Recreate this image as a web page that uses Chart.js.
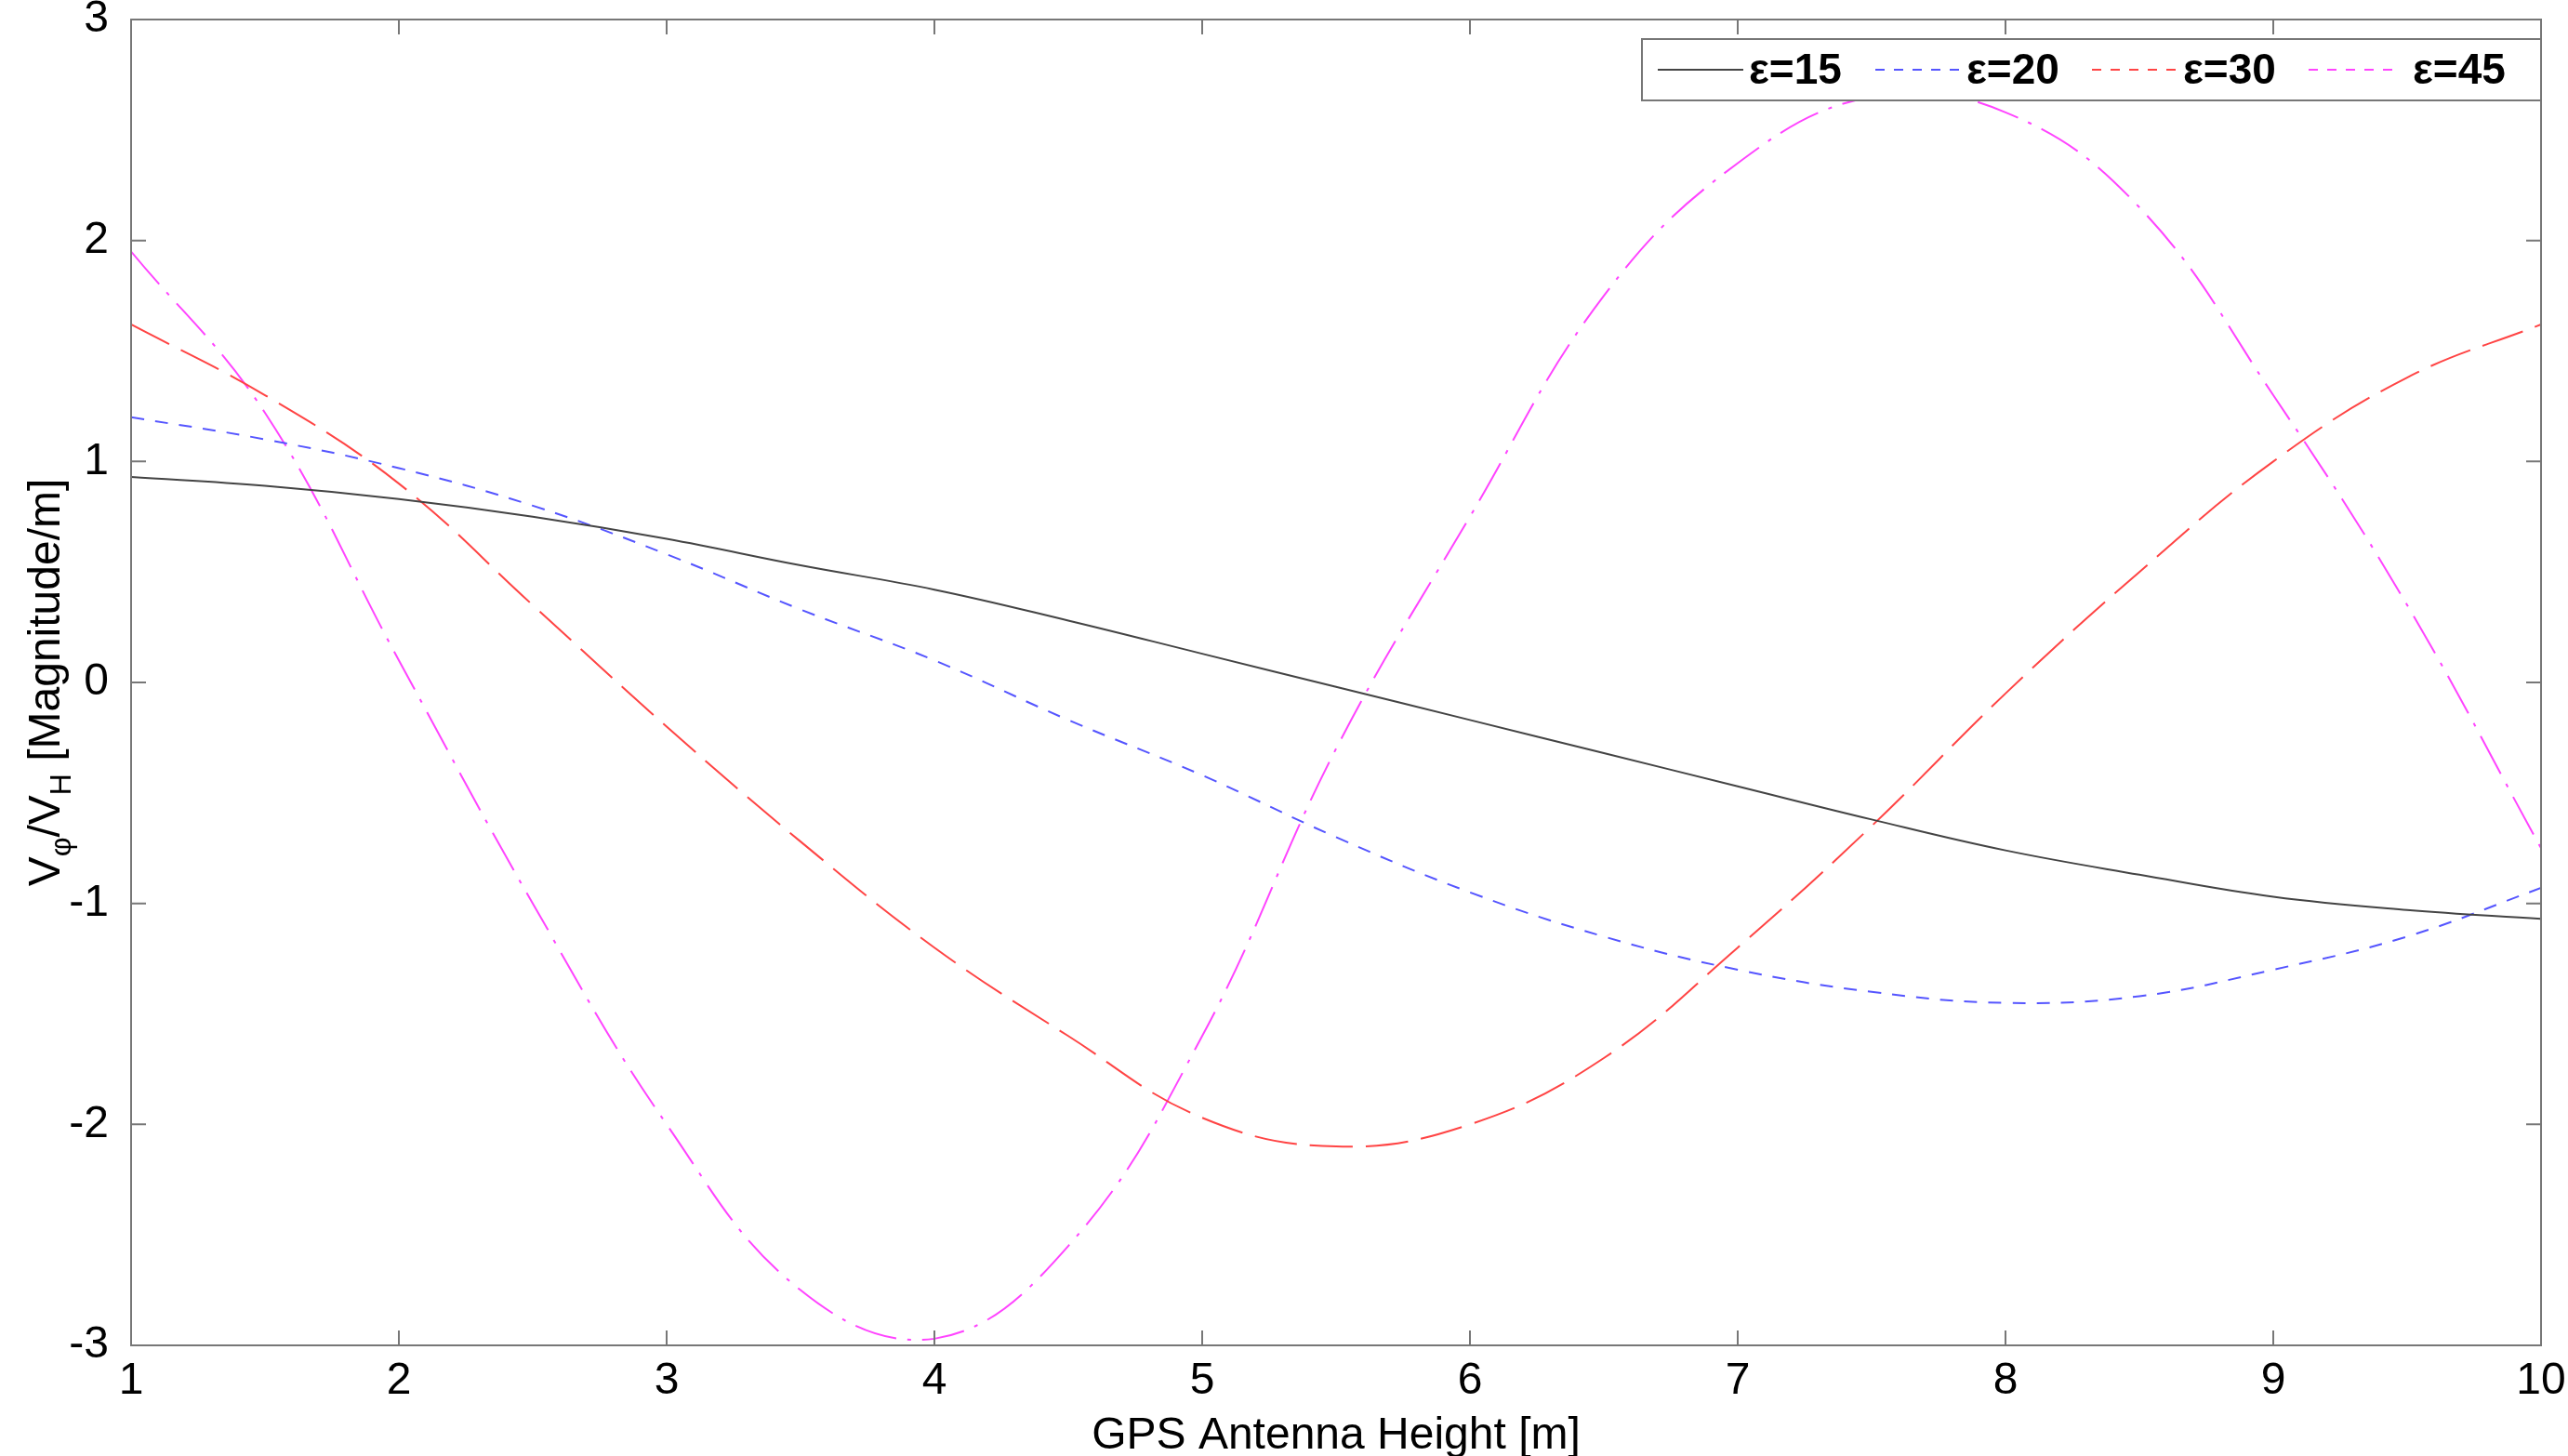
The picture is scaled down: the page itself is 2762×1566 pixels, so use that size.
<!DOCTYPE html>
<html>
<head>
<meta charset="utf-8">
<script src="https://cdn.jsdelivr.net/npm/chart.js@4/dist/chart.umd.min.js"></script>
<style>
  html, body { margin: 0; padding: 0; background: #fff; }
  #wrap { width: 2762px; height: 1566px; }
</style>
</head>
<body>
<div id="wrap"><canvas id="chart"></canvas></div>
<script>
// Data
const heights = [1, 1.5, 2, 2.5, 3, 3.5, 4, 4.5, 5, 5.5, 6, 6.5, 7, 7.5, 8, 8.5, 9, 9.5, 10];
const eps15 = [0.93, 0.89, 0.83, 0.75, 0.65, 0.53, 0.42, 0.28, 0.13, -0.02, -0.17, -0.32, -0.47, -0.62, -0.76, -0.87, -0.97, -1.03, -1.07];
const eps20 = [1.2, 1.1, 0.97, 0.8, 0.58, 0.33, 0.1, -0.17, -0.42, -0.7, -0.95, -1.15, -1.3, -1.4, -1.45, -1.42, -1.3, -1.15, -0.93];
const eps30 = [1.62, 1.3, 0.9, 0.35, -0.2, -0.72, -1.2, -1.6, -1.97, -2.1, -2.0, -1.7, -1.2, -0.65, -0.05, 0.5, 1.0, 1.38, 1.62];
const eps45 = [1.95, 1.22, 0.1, -1.0, -2.0, -2.75, -2.97, -2.55, -1.6, -0.3, 0.75, 1.75, 2.35, 2.65, 2.58, 2.15, 1.3, 0.35, -0.75];
const xTicks = [1, 2, 3, 4, 5, 6, 7, 8, 9, 10];
const yTicks = [-3, -2, -1, 0, 1, 2, 3];

const FONT = '"Liberation Sans", Arial, sans-serif';

const series = [
    { label: 'ε=15', data: eps15, color: '#444444', dash: [] },
    { label: 'ε=20', data: eps20, color: '#5555ff', dash: [14, 12] },
    { label: 'ε=30', data: eps30, color: '#ff4444', dash: [46, 14] },
    { label: 'ε=45', data: eps45, color: '#ff44ff', dash: [46, 12, 4, 12] },
];

// MATLAB-style box, inward ticks, axis titles and legend
const matlabFrame = {
    id: 'matlabFrame',
    afterDraw(chart) {
        const { ctx, chartArea: a, scales: { x, y } } = chart;
        ctx.save();
        ctx.strokeStyle = '#777';
        ctx.lineWidth = 2;
        ctx.setLineDash([]);
        ctx.strokeRect(a.left, a.top, a.right - a.left, a.bottom - a.top);
        ctx.beginPath();
        xTicks.forEach(v => {
            const px = x.getPixelForValue(v);
            ctx.moveTo(px, a.bottom); ctx.lineTo(px, a.bottom - 16);
            ctx.moveTo(px, a.top); ctx.lineTo(px, a.top + 16);
        });
        yTicks.forEach(v => {
            const py = y.getPixelForValue(v);
            ctx.moveTo(a.left, py); ctx.lineTo(a.left + 16, py);
            ctx.moveTo(a.right, py); ctx.lineTo(a.right - 16, py);
        });
        ctx.stroke();

        // x title
        ctx.fillStyle = '#000';
        ctx.font = '48px ' + FONT;
        ctx.textAlign = 'center';
        ctx.textBaseline = 'alphabetic';
        ctx.fillText('GPS Antenna Height [m]', (a.left + a.right) / 2, 1558);

        // y title with subscripts
        ctx.translate(50, (a.top + a.bottom) / 2);
        ctx.rotate(-Math.PI / 2);
        const parts = [['V', 0], ['φ', 1], ['/V', 0], ['H', 1], [' [Magnitude/m]', 0]];
        const big = '48px ' + FONT, small = '32px ' + FONT;
        let total = 0;
        parts.forEach(([t, s]) => { ctx.font = s ? small : big; total += ctx.measureText(t).width; });
        let cx = -total / 2;
        ctx.textAlign = 'left';
        parts.forEach(([t, s]) => {
            ctx.font = s ? small : big;
            ctx.fillText(t, cx, s ? 26 : 14);
            cx += ctx.measureText(t).width;
        });
        ctx.restore();

        // legend box
        ctx.save();
        const lx = 1766, ly = 42, lw = a.right - lx, lh = 66;
        ctx.fillStyle = '#fff';
        ctx.fillRect(lx, ly, lw, lh);
        ctx.strokeStyle = '#777';
        ctx.lineWidth = 2;
        ctx.strokeRect(lx, ly, lw, lh);
        ctx.font = 'bold 46px ' + FONT;
        ctx.textBaseline = 'middle';
        ctx.fillStyle = '#000';
        const slots = [1783, 2017, 2250, 2483];
        series.forEach((s, i) => {
            const sx = slots[i];
            ctx.strokeStyle = s.color;
            ctx.lineWidth = 2;
            ctx.setLineDash(s.dash.length ? [10, 10] : []);
            ctx.beginPath();
            ctx.moveTo(sx, ly + lh / 2);
            ctx.lineTo(sx + 92, ly + lh / 2);
            ctx.stroke();
            ctx.setLineDash([]);
            ctx.fillText(s.label, sx + (i === 3 ? 112 : 98), ly + lh / 2 + 2);
        });
        ctx.restore();
    }
};

new Chart(document.getElementById('chart'), {
    type: 'line',
    data: {
        labels: heights,
        datasets: series.map(s => ({
            label: s.label,
            data: s.data.map((v, i) => ({ x: heights[i], y: v })),
            borderColor: s.color,
            borderDash: s.dash,
            borderWidth: 2,
            pointRadius: 0,
            tension: 0.4,
            fill: false,
        }))
    },
    options: {
        responsive: true,
        maintainAspectRatio: false,
        animation: false,
        devicePixelRatio: 1,
        layout: { padding: { left: 0, right: 29, top: 21, bottom: 0 } },
        plugins: { legend: { display: false }, tooltip: { enabled: false } },
        scales: {
            x: {
                type: 'linear',
                min: 1, max: 10,
                afterBuildTicks: ax => { ax.ticks = xTicks.map(v => ({ value: v })); },
                afterFit: ax => { ax.height = 119; },
                grid: { display: false },
                border: { display: false },
                ticks: { color: '#000', font: { family: FONT, size: 48 }, padding: 2, maxRotation: 0 }
            },
            y: {
                min: -3, max: 3,
                afterBuildTicks: ax => { ax.ticks = yTicks.map(v => ({ value: v })); },
                afterFit: ax => { ax.width = 141; ax.paddingTop = 0; ax.paddingBottom = 0; },
                grid: { display: false },
                border: { display: false },
                ticks: { color: '#000', font: { family: FONT, size: 48 }, padding: 16 }
            }
        }
    },
    plugins: [matlabFrame]
});
</script>
</body>
</html>
